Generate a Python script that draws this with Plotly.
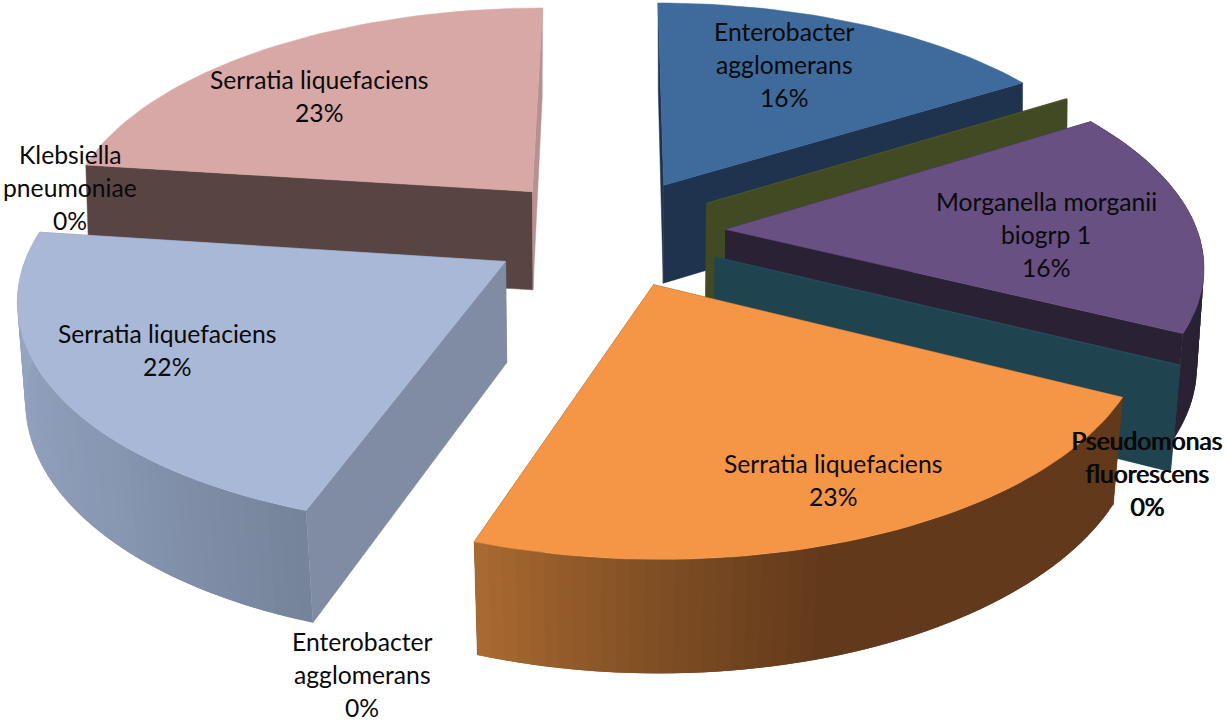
import math
import plotly.graph_objects as go

# ---- data (percent of total, clockwise from 12 o'clock)
species = ["Enterobacter agglomerans", "Citrobacter", "Morganella morganii biogrp 1",
           "Pseudomonas fluorescens", "Serratia liquefaciens", "Enterobacter agglomerans",
           "Serratia liquefaciens", "Klebsiella pneumoniae", "Serratia liquefaciens"]
values = [16.1, 0.05, 16.2, 0.05, 22.93, 0.0, 21.75, 0.0, 22.92]

# ---- styling
top_colors = ["#3F6A9C", "#4F5A2A", "#685082", "#245060", "#F59647", "#7F8CA3", "#A9B8D6", "#584442", "#D8A8A7"]
start_wall = ["#1F334F", "#424A24", "#2B2135", "#1F4450", "#603818", "#7F8CA3", "#7F8CA3", "#584442", "#584442"]
end_wall = ["#1F334F", "#424A24", "#2B2135", "#1F4450", "#603818", "#7F8CA3", "#7F8CA3", "#584442", "#B89090"]
# outer wall gradient stops: (angle deg, colour)
outer_grad = {
    2: [(58, "#2B2135"), (120, "#2B2135")],
    4: [(115, "#62391B"), (163, "#62391B"), (180, "#7F4E24"), (190, "#955C2A"), (200, "#AC6C31")],
    6: [(199, "#75839A"), (225, "#8796B1"), (255, "#93A2BE"), (280, "#98A7C4")],
}
draw_order = [8, 0, 1, 2, 3, 6, 4]

label_lines = [
    (["Enterobacter", "agglomerans", "16%"], 784, 31, False),
    (["Morganella morganii", "biogrp 1", "16%"], 1046, 201, False),
    (["Pseudomonas", "fluorescens", "0%"], 1147, 440, True),
    (["Serratia liquefaciens", "23%"], 833, 463, False),
    (["Enterobacter", "agglomerans", "0%"], 362, 641, False),
    (["Serratia liquefaciens", "22%"], 167, 333, False),
    (["Klebsiella", "pneumoniae", "0%"], 70, 154, False),
    (["Serratia liquefaciens", "23%"], 319, 79, False),
]

# ---- projection parameters
PX, PY, AX, BY, K, PULL, DEPTH = 608, 232, 472, 220, 0.14, 0.25, 100


def proj(X, Y, low=False):
    d = 1 - K * Y
    sx = AX * X / d - 1.0 * Y
    sy = BY * Y / d
    if low:
        sx *= 0.99 - 0.012 * Y
        sy += DEPTH / (1 - 0.1 * Y)
    return PX + sx, PY + sy


def hex2rgb(h):
    return [int(h[i:i + 2], 16) for i in (1, 3, 5)]


def grad(stops, a):
    if a <= stops[0][0]:
        return stops[0][1]
    for (a0, c0), (a1, c1) in zip(stops, stops[1:]):
        if a <= a1:
            t = (a - a0) / (a1 - a0)
            r0, r1 = hex2rgb(c0), hex2rgb(c1)
            return "#%02X%02X%02X" % tuple(round(u + (v - u) * t) for u, v in zip(r0, r1))
    return stops[-1][1]


fig = go.Figure()


def poly(pts, color, lw=0.5):
    xs = [p[0] for p in pts] + [pts[0][0]]
    ys = [p[1] for p in pts] + [pts[0][1]]
    fig.add_trace(go.Scatter(x=xs, y=ys, mode="lines", fill="toself", fillcolor=color,
                             line=dict(color=color, width=lw), hoverinfo="skip", showlegend=False))


total = sum(values)
edges = [0.0]
for v in values:
    edges.append(edges[-1] + v / total * 360.0)


def world(a_deg, ox, oy, r=1.0):
    a = math.radians(a_deg)
    return ox + r * math.sin(a), oy - r * math.cos(a)


for i in draw_order:
    a0, a1 = edges[i], edges[i + 1]
    mid = math.radians((a0 + a1) / 2)
    ox, oy = PULL * math.sin(mid), -PULL * math.cos(mid)
    n = max(2, int((a1 - a0) / 1.5) + 1)
    angs = [a0 + (a1 - a0) * j / n for j in range(n + 1)]
    rim = [world(a, ox, oy) for a in angs]
    # radial cut walls come first, the outer wall overlaps them
    for (xr, yr), col in ((rim[0], start_wall[i]), (rim[-1], end_wall[i])):
        poly([proj(ox, oy), proj(xr, yr), proj(xr, yr, True), proj(ox, oy, True)], col)
    # outer wall strips, each overlapping the next one to hide seams
    if i in outer_grad:
        for j in range(n):
            a_s = angs[j]
            a_e = angs[min(j + 2, n)]
            pts_up = [proj(*world(a_s + (a_e - a_s) * t / 3, ox, oy)) for t in range(4)]
            pts_dn = [proj(*world(a_s + (a_e - a_s) * t / 3, ox, oy), True) for t in range(3, -1, -1)]
            poly(pts_up + pts_dn, grad(outer_grad[i], (angs[j] + angs[j + 1]) / 2), lw=0)
    # top face
    poly([proj(ox, oy)] + [proj(x, y) for x, y in rim], top_colors[i])

LINE = 33.2
annotations = []
for lines, cx, cy, heavy in label_lines:
    for j, t in enumerate(lines):
        offs = [-0.5, 0.5] if heavy else [0]
        for o in offs:
            annotations.append(dict(x=cx + o, y=cy + j * LINE, xref="x", yref="y", text=t,
                                    showarrow=False, xanchor="center", yanchor="middle",
                                    font=dict(family="Lato", size=24.7, color="#0A0A0A")))

fig.update_layout(
    width=1228, height=724, margin=dict(l=0, r=0, t=0, b=0),
    paper_bgcolor="white", plot_bgcolor="white", showlegend=False,
    xaxis=dict(range=[0, 1228], visible=False, fixedrange=True),
    yaxis=dict(range=[724, 0], visible=False, fixedrange=True),
    annotations=annotations,
)
fig.write_html("out.html", config=dict(displayModeBar=False),
               post_script="document.body.style.margin='0';document.body.style.overflow='hidden';")
